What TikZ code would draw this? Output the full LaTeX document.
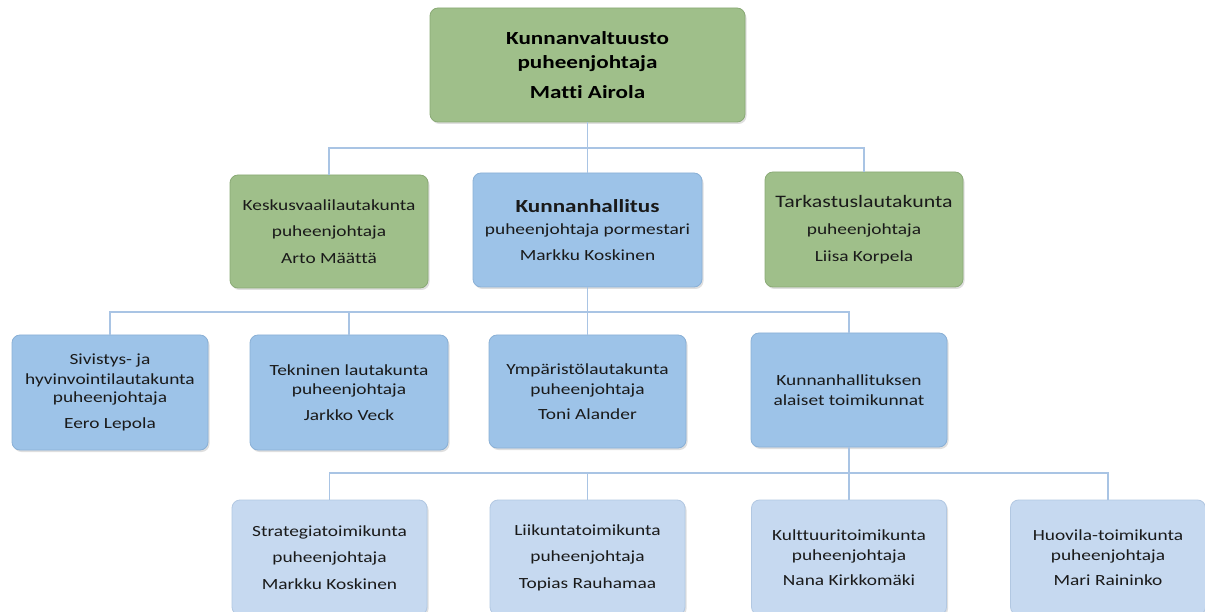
\documentclass[tikz,border=0pt]{standalone}
\usepackage{fontspec}
\setmainfont{Carlito}[FakeStretch=1.25, Ligatures=NoCommon]
\usetikzlibrary{shadows}
\definecolor{grn}{HTML}{9FBF8A}
\definecolor{grnd}{HTML}{8AAA76}
\definecolor{blu}{HTML}{9DC3E8}
\definecolor{blud}{HTML}{8AB0D6}
\definecolor{lbl}{HTML}{C6D9F0}
\definecolor{lbld}{HTML}{B2C8E2}
\definecolor{lnc}{HTML}{A9C4E4}
\definecolor{txt}{HTML}{1A1A1A}
\tikzset{
  orgbox/.style={rectangle, rounded corners=8pt, inner sep=0pt, align=center,
    text=txt, line width=0.8pt, font=\fontsize{15.5}{19.5}\selectfont,
    drop shadow={opacity=0.25, shadow xshift=1.5pt, shadow yshift=-2pt}},
  greenbox/.style={orgbox, fill=grn, draw=grnd},
  bluebox/.style={orgbox, fill=blu, draw=blud},
  lightbox/.style={orgbox, fill=lbl, draw=lbld},
  conn/.style={draw=lnc, line width=1.6pt}
}
\begin{document}
\begin{tikzpicture}[x=1pt,y=-1pt]
\useasboundingbox (0,0) rectangle (1205,612);
\clip (0,0) rectangle (1205,612);
\fill[white] (0,0) rectangle (1205,612);
% row 0
\node[greenbox, minimum width=315pt, minimum height=114pt, text=black,
  font=\fontsize{18.5}{19.5}\selectfont\bfseries] (top) at (587.5,65)
  {Kunnanvaltuusto\\[4.5pt]puheenjohtaja\\[10.5pt]Matti Airola};
% row 1
\node[greenbox, minimum width=198pt, minimum height=113pt] (kes) at (329,231.5)
  {Keskusvaalilautakunta\\[7pt]puheenjohtaja\\[7pt]Arto Määttä};
\node[bluebox, minimum width=229pt, minimum height=114pt] (kh) at (587.5,230)
  {{\fontsize{18.5}{19.5}\selectfont\bfseries Kunnanhallitus}\\[1.8pt]puheenjohtaja pormestari\\[6.5pt]Markku Koskinen};
\node[greenbox, minimum width=198pt, minimum height=115pt] (tar) at (864,229.5)
  {{\fontsize{17.5}{19.5}\selectfont Tarkastuslautakunta}\\[8pt]puheenjohtaja\\[7.5pt]Liisa Korpela};
% row 2
\node[bluebox, minimum width=196pt, minimum height=115pt] (siv) at (110,392.5)
  {Sivistys- ja\\hyvinvointilautakunta\\[-1pt]puheenjohtaja\\[6.5pt]Eero Lepola};
\node[bluebox, minimum width=198pt, minimum height=115pt] (tek) at (349,392.5)
  {Tekninen lautakunta\\puheenjohtaja\\[6.5pt]Jarkko Veck};
\node[bluebox, minimum width=197pt, minimum height=113pt] (ymp) at (587.5,391.5)
  {Ympäristölautakunta\\puheenjohtaja\\[5.5pt]Toni Alander};
\node[bluebox, minimum width=196pt, minimum height=114pt] (kha) at (849,390)
  {Kunnanhallituksen\\alaiset toimikunnat};
% row 3
\node[lightbox, minimum width=195pt, minimum height=115pt] (str) at (329.5,557.5)
  {Strategiatoimikunta\\[7pt]puheenjohtaja\\[7pt]Markku Koskinen};
\node[lightbox, minimum width=195pt, minimum height=115pt] (lii) at (587.5,557.5)
  {Liikuntatoimikunta\\[7pt]puheenjohtaja\\[7pt]Topias Rauhamaa};
\node[lightbox, minimum width=195pt, minimum height=115pt] (kul) at (849,557.5)
  {Kulttuuritoimikunta\\puheenjohtaja\\[5.5pt]Nana Kirkkomäki};
\node[lightbox, minimum width=195pt, minimum height=115pt] (huo) at (1108,557.5)
  {Huovila-toimikunta\\puheenjohtaja\\[5.5pt]Mari Raininko};
% connectors
\coordinate (b1) at (587.5,148);
\coordinate (b2) at (587.5,312);
\coordinate (b3) at (849,473);
\draw[conn] (top) -- (kh);
\draw[conn] (kes.north) |- (b1) -| (tar.north);
\draw[conn] (kh) -- (ymp);
\draw[conn] (siv.north) |- (b2) -| (kha.north);
\draw[conn] (tek.north) |- (b2);
\draw[conn] (kha) -- (kul);
\draw[conn] (str.north) |- (b3) -| (huo.north);
\draw[conn] (lii.north) |- (b3);
\end{tikzpicture}
\end{document}
